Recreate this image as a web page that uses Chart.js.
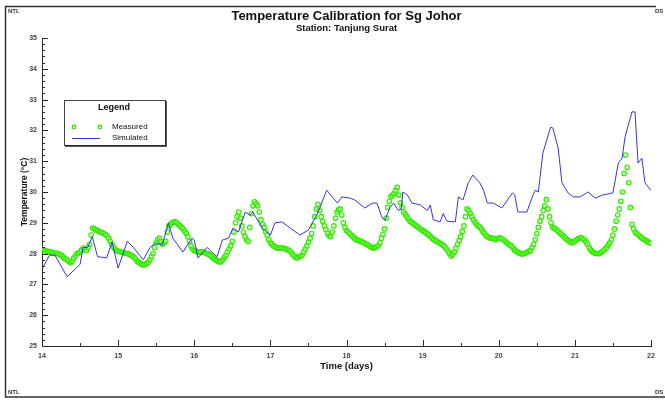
<!DOCTYPE html>
<html>
<head>
<meta charset="utf-8">
<script src="https://cdn.jsdelivr.net/npm/chart.js@4.4.0/dist/chart.umd.min.js"></script>
<style>
  html, body { margin: 0; padding: 0; background: #fff; }
  #wrap { width: 665px; height: 400px; position: relative; }
</style>
</head>
<body>
<div id="wrap"><canvas id="c" width="665" height="400"></canvas></div>
<script>
// ---- Data ----
const chartTitle = "Temperature Calibration for Sg Johor";
const chartSubtitle = "Station: Tanjung Surat";
const xAxisTitle = "Time (days)";
const yAxisTitle = "Temperature (\u00B0C)";
const xTickValues = [14, 15, 16, 17, 18, 19, 20, 21, 22];
const yTickValues = [25, 26, 27, 28, 29, 30, 31, 32, 33, 34, 35];

// Measured: half-hourly readings starting at day 14
const measuredStartDay = 14;
const readingsPerDay = 48;
const measuredTemps = [
  // day 14
  28.15, 28.12, 28.10, 28.08, 28.05, 28.06, 28.05, 28.02, 28.00, 28.02, 28.00, 27.98,
  27.95, 27.90, 27.85, 27.82, 27.80, 27.75, 27.70, 27.75, 27.85, 27.92, 28.00, 28.02,
  28.05, 28.12, 28.18, 28.15, 28.10, 28.20, 28.30, 28.60, 28.83, 28.80, 28.77, 28.75,
  28.72, 28.70, 28.68, 28.65, 28.62, 28.58, 28.50, 28.40, 28.30, 28.22, 28.15, 28.10,
  // day 15
  28.08, 28.06, 28.05, 28.04, 28.02, 28.01, 28.00, 27.98, 27.95, 27.92, 27.88, 27.82,
  27.75, 27.72, 27.68, 27.65, 27.63, 27.65, 27.68, 27.72, 27.80, 27.90, 28.00, 28.20,
  28.35, 28.45, 28.50, 28.40, 28.30, 28.35, 28.40, 28.70, 28.90, 28.95, 29.00, 29.02,
  29.03, 29.00, 28.95, 28.90, 28.85, 28.80, 28.72, 28.65, 28.55, 28.40, 28.25, 28.15,
  // day 16
  28.10, 28.08, 28.05, 28.05, 28.05, 28.06, 28.05, 28.02, 28.00, 27.98, 27.95, 27.90,
  27.85, 27.82, 27.78, 27.75, 27.73, 27.75, 27.80, 27.88, 27.95, 28.05, 28.15, 28.25,
  28.40, 28.70, 29.00, 29.20, 29.35, 29.15, 28.90, 28.70, 28.55, 28.45, 28.40, 28.85,
  29.30, 29.55, 29.68, 29.62, 29.55, 29.35, 29.10, 28.95, 28.85, 28.72, 28.60, 28.45,
  // day 17
  28.35, 28.30, 28.25, 28.22, 28.18, 28.18, 28.18, 28.18, 28.18, 28.16, 28.15, 28.12,
  28.10, 28.05, 27.98, 27.92, 27.88, 27.86, 27.90, 27.92, 27.95, 28.05, 28.15, 28.25,
  28.38, 28.50, 28.65, 28.90, 29.20, 29.45, 29.60, 29.40, 29.20, 29.05, 28.90, 28.78,
  28.65, 28.58, 28.55, 28.70, 28.90, 29.15, 29.35, 29.42, 29.45, 29.25, 29.00, 28.85,
  // day 18
  28.75, 28.70, 28.65, 28.60, 28.55, 28.50, 28.45, 28.44, 28.42, 28.40, 28.38, 28.35,
  28.32, 28.30, 28.26, 28.22, 28.20, 28.18, 28.20, 28.22, 28.26, 28.35, 28.50, 28.62,
  28.80, 29.15, 29.50, 29.70, 29.85, 29.90, 29.95, 30.05, 30.15, 29.90, 29.65, 29.50,
  29.35, 29.28, 29.20, 29.12, 29.05, 29.02, 28.98, 28.94, 28.90, 28.86, 28.82, 28.78,
  // day 19
  28.75, 28.72, 28.68, 28.64, 28.60, 28.55, 28.50, 28.46, 28.42, 28.40, 28.36, 28.33,
  28.30, 28.26, 28.22, 28.15, 28.08, 28.00, 27.92, 27.98, 28.05, 28.18, 28.30, 28.42,
  28.55, 28.72, 28.90, 29.20, 29.45, 29.40, 29.30, 29.20, 29.10, 29.02, 28.95, 28.90,
  28.86, 28.80, 28.72, 28.65, 28.58, 28.55, 28.52, 28.50, 28.50, 28.48, 28.45, 28.48,
  // day 20
  28.50, 28.50, 28.48, 28.44, 28.40, 28.36, 28.32, 28.28, 28.25, 28.18, 28.12, 28.08,
  28.05, 28.02, 28.00, 27.99, 28.00, 28.02, 28.05, 28.08, 28.10, 28.20, 28.30, 28.45,
  28.65, 28.85, 29.05, 29.20, 29.40, 29.55, 29.75, 29.45, 29.20, 29.00, 28.85, 28.82,
  28.80, 28.75, 28.70, 28.65, 28.60, 28.55, 28.50, 28.46, 28.42, 28.38, 28.35, 28.38,
  // day 21
  28.40, 28.45, 28.48, 28.50, 28.52, 28.48, 28.45, 28.38, 28.30, 28.20, 28.12, 28.06,
  28.03, 28.01, 28.00, 28.00, 28.02, 28.05, 28.10, 28.15, 28.20, 28.28, 28.35, 28.45,
  28.60, 28.80, 29.05, 29.25, 29.45, 29.70, 30.00, 30.60, 31.20, 30.80, 30.30, 29.50,
  28.95, 28.80, 28.70, 28.65, 28.60, 28.56, 28.52, 28.48, 28.45, 28.42, 28.38, 28.36,
  // day 22
  28.34
];

// Simulated: [day, temperature]
const simulatedDays = [
  14.00, 14.10, 14.17, 14.33, 14.50, 14.54, 14.60, 14.66, 14.73, 14.85, 14.92, 15.00,
  15.12, 15.20, 15.33, 15.42, 15.49, 15.58, 15.66, 15.72, 15.85, 15.97, 16.00, 16.05,
  16.17, 16.23, 16.30, 16.37, 16.45, 16.51, 16.58, 16.67, 16.73, 16.77, 16.89, 17.00,
  17.06, 17.15, 17.26, 17.39, 17.50, 17.63, 17.68, 17.74, 17.88, 17.94, 18.05, 18.11,
  18.24, 18.34, 18.40, 18.47, 18.51, 18.57, 18.62, 18.68, 18.72, 18.74, 18.80, 18.86,
  18.97, 19.06, 19.10, 19.14, 19.23, 19.27, 19.32, 19.43, 19.47, 19.53, 19.60, 19.66,
  19.75, 19.80, 19.85, 19.93, 20.04, 20.18, 20.21, 20.25, 20.37, 20.44, 20.48, 20.52,
  20.58, 20.68, 20.71, 20.78, 20.83, 20.91, 20.98, 21.07, 21.17, 21.27, 21.36, 21.50,
  21.57, 21.62, 21.66, 21.75, 21.79, 21.83, 21.88, 21.92, 22.00
];
const simulatedTemps = [
  27.50, 27.95, 27.95, 27.25, 27.65, 28.20, 28.20, 28.55, 27.90, 27.86, 28.38, 27.53,
  28.40, 28.20, 27.80, 28.20, 28.34, 28.28, 28.99, 28.50, 28.05, 28.50, 28.44, 27.86,
  28.20, 28.05, 27.90, 28.44, 28.50, 28.83, 28.70, 29.35, 29.25, 29.35, 28.83, 28.60,
  29.00, 29.03, 28.83, 28.60, 28.77, 29.35, 29.68, 30.06, 29.64, 29.84, 29.80, 29.74,
  29.48, 29.64, 29.64, 29.15, 29.10, 29.50, 29.64, 29.40, 29.45, 30.00, 29.90, 29.64,
  29.58, 29.40, 29.58, 29.10, 29.03, 29.30, 29.05, 29.03, 29.84, 29.74, 30.30, 30.55,
  30.30, 30.06, 29.64, 29.64, 29.48, 29.97, 29.90, 29.35, 29.35, 29.84, 30.06, 30.00,
  31.27, 32.10, 32.08, 31.43, 30.30, 29.97, 29.84, 29.84, 30.00, 29.80, 29.90, 29.97,
  30.94, 31.10, 31.80, 32.60, 32.60, 30.94, 31.10, 30.30, 30.05
];

const legendTitle = "Legend";
const seriesNames = ["Measured", "Simulated"];

// ---- Build datasets ----
const measuredPoints = measuredTemps.map((t, i) => ({ x: measuredStartDay + i / readingsPerDay, y: t }));
const simulatedPoints = simulatedDays.map((d, i) => ({ x: d, y: simulatedTemps[i] }));

const FONT = "'Liberation Sans', Arial, Helvetica, sans-serif";
const GREEN = '#33e800';
const GREEN_FILL = 'rgba(170,255,140,0.5)';
const BLUE = '#3535dc';
const AXIS = '#2a2a2a';

const decorPlugin = {
  id: 'decor',
  afterDraw(chart) {
    const ctx = chart.ctx;
    const ca = chart.chartArea;
    const xs = chart.scales.x, ys = chart.scales.y;
    ctx.save();
    // outer frame
    ctx.strokeStyle = '#333';
    ctx.lineWidth = 1.5;
    ctx.beginPath();
    ctx.moveTo(656, 6.5); ctx.lineTo(5.5, 6.5); ctx.lineTo(5.5, 397); ctx.lineTo(665, 397);
    ctx.stroke();
    // corner labels
    ctx.fillStyle = '#333';
    ctx.font = 'bold 6px ' + FONT;
    ctx.textBaseline = 'middle';
    ctx.textAlign = 'left';
    ctx.fillText('NTL', 8, 11);
    ctx.fillText('NTL', 8, 392);
    ctx.fillText('DS', 655, 11);
    ctx.fillText('DS', 655, 392);
    // titles
    const cx = (ca.left + ca.right) / 2;
    ctx.fillStyle = '#111';
    ctx.textAlign = 'center';
    ctx.font = 'bold 13px ' + FONT;
    ctx.fillText(chartTitle, cx, 16);
    ctx.font = 'bold 9.5px ' + FONT;
    ctx.fillText(chartSubtitle, cx, 28.5);
    // y ticks (inward)
    ctx.strokeStyle = AXIS;
    ctx.lineWidth = 1;
    ctx.beginPath();
    for (let k = 0; k <= 50; k++) {
      const v = 25 + k * 0.2;
      const py = Math.round(ys.getPixelForValue(v)) + 0.5;
      const len = (k % 5 === 0) ? 6 : 3;
      ctx.moveTo(ca.left, py); ctx.lineTo(ca.left + len, py);
    }
    // x ticks (inward / upward)
    for (let k = 0; k <= 16; k++) {
      const v = 14 + k * 0.5;
      const px = Math.round(xs.getPixelForValue(v)) + 0.5;
      const len = (k % 2 === 0) ? 6 : 3;
      ctx.moveTo(px, ca.bottom); ctx.lineTo(px, ca.bottom - len);
    }
    ctx.stroke();
    // legend box
    const lx = 64, ly = 100, lw = 101, lh = 45;
    ctx.fillStyle = '#fff';
    ctx.fillRect(lx, ly, lw, lh);
    ctx.strokeStyle = '#444';
    ctx.lineWidth = 1;
    ctx.strokeRect(lx + 0.5, ly + 0.5, lw, lh);
    ctx.strokeStyle = '#222';
    ctx.lineWidth = 1.5;
    ctx.beginPath();
    ctx.moveTo(lx + lw + 1, ly + 1); ctx.lineTo(lx + lw + 1, ly + lh + 1); ctx.lineTo(lx + 1, ly + lh + 1);
    ctx.stroke();
    ctx.fillStyle = '#111';
    ctx.textAlign = 'center';
    ctx.font = 'bold 9px ' + FONT;
    ctx.fillText(legendTitle, 114, 108);
    ctx.textAlign = 'left';
    ctx.font = '8px ' + FONT;
    ctx.fillText(seriesNames[0], 112, 127);
    ctx.fillText(seriesNames[1], 112, 138);
    // legend markers
    ctx.strokeStyle = GREEN; ctx.fillStyle = GREEN_FILL; ctx.lineWidth = 1.2;
    [74, 100].forEach(px => {
      ctx.beginPath(); ctx.arc(px, 127, 1.8, 0, Math.PI * 2); ctx.fill(); ctx.stroke();
    });
    ctx.strokeStyle = BLUE; ctx.lineWidth = 1;
    ctx.beginPath(); ctx.moveTo(72, 138.5); ctx.lineTo(100, 138.5); ctx.stroke();
    ctx.restore();
  }
};

new Chart(document.getElementById('c'), {
  type: 'scatter',
  data: {
    datasets: [
      {
        label: seriesNames[0],
        data: measuredPoints,
        showLine: false,
        pointRadius: 2.3,
        pointBorderWidth: 1.1,
        pointBorderColor: GREEN,
        pointBackgroundColor: GREEN_FILL,
        order: 2
      },
      {
        label: seriesNames[1],
        data: simulatedPoints,
        showLine: true,
        borderColor: BLUE,
        borderWidth: 1,
        pointRadius: 0,
        tension: 0,
        order: 1
      }
    ]
  },
  options: {
    responsive: false,
    animation: false,
    devicePixelRatio: 1,
    layout: { padding: { top: 38, right: 14, left: 0, bottom: 0 } },
    plugins: { legend: { display: false }, tooltip: { enabled: false }, title: { display: false } },
    scales: {
      x: {
        type: 'linear',
        min: 14, max: 22,
        afterBuildTicks: (s) => { s.ticks = xTickValues.map(v => ({ value: v })); },
        ticks: { font: { family: FONT, size: 7, weight: 'bold' }, color: '#444', padding: 6, maxRotation: 0 },
        grid: { display: false, drawTicks: false },
        border: { display: true, color: AXIS, width: 1 },
        title: { display: true, text: xAxisTitle, color: '#111', font: { family: FONT, size: 9.5, weight: 'bold' }, padding: { top: 0, bottom: 28 } },
        afterFit: (s) => { s.height = 54; }
      },
      y: {
        min: 25, max: 35,
        afterBuildTicks: (s) => { s.ticks = yTickValues.map(v => ({ value: v })); },
        ticks: { font: { family: FONT, size: 7, weight: 'bold' }, color: '#444', padding: 5 },
        grid: { display: false, drawTicks: false },
        border: { display: true, color: AXIS, width: 1 },
        title: { display: true, text: yAxisTitle, color: '#111', font: { family: FONT, size: 8.5, weight: 'bold' }, padding: { top: 20, bottom: 0 } },
        afterFit: (s) => { s.width = 42; }
      }
    }
  },
  plugins: [decorPlugin]
});
</script>
</body>
</html>
